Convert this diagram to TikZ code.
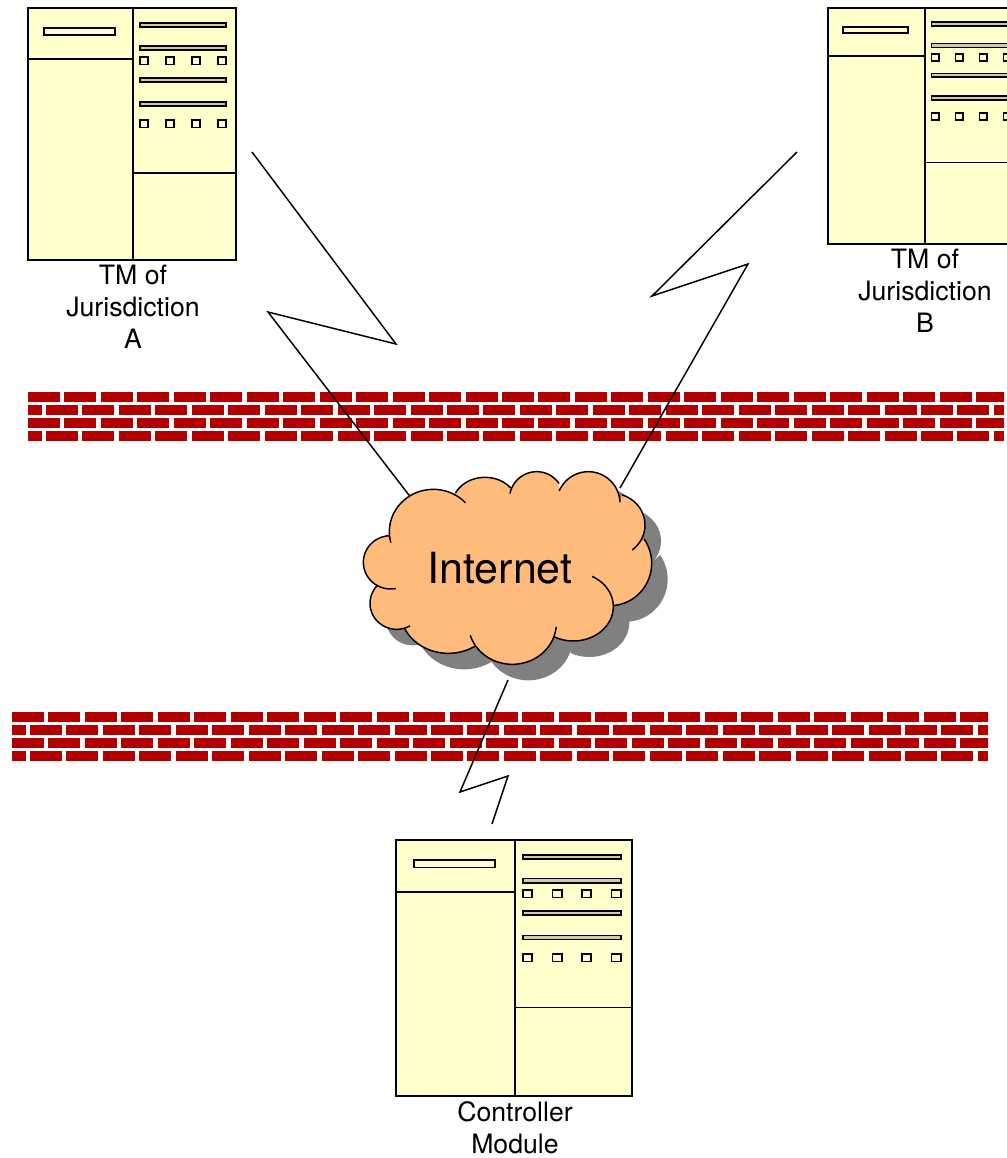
\documentclass[tikz,border=0pt]{standalone}
\usepackage{fontspec}
\setmainfont{TeX Gyre Heros}
\usepackage{tikz}

% One rack: #1 = left, #2 = top, #3 = x factor, #4 = y factor
\newcommand{\serverrack}[4]{
  \begin{scope}[shift={(#1,#2)},xscale=#3,yscale=#4]
    \draw[rack line,fill=rackcolor] (0,0) rectangle (208,252);
    \draw[rack line] (105,0) -- (105,252);
    \draw[thin line] (0,51) -- (105,51);
    \draw[thin line] (105,165) -- (208,165);
    \draw[thin line,fill=rackcolor] (16,20) rectangle (87,27);
    \foreach \y in {15,38,70,94}
      \draw[thin line,fill=slotcolor] (112,\y) rectangle (198,\y+4);
    \foreach \y in {49,112}
      \foreach \x in {112,138,164,190}
        \draw[thin line,fill=rackcolor] (\x,\y) rectangle (\x+8,\y+7.5);
  \end{scope}
}

% One wall: #1 = left, #2 = top
\newcommand{\brickwall}[2]{
  \begin{scope}[shift={(#1,#2)}]
    \clip (0,0) rectangle (976,49);
    \foreach \row in {0,26}
      \foreach \k in {0,...,26} {
        \fill[brickcolor] (\k*36.46,\row) rectangle (\k*36.46+32,\row+10);
        \fill[brickcolor] (\k*36.46-18.5,\row+13) rectangle (\k*36.46+13.5,\row+23);
      }
    \fill[brickcolor] (26*36.46+18,13) rectangle (976,23);
    \fill[brickcolor] (26*36.46+18,39) rectangle (976,49);
  \end{scope}
}

% One lobe of the cloud: join, centre, radii, first and last angle
\newcommand{\lobe}[7]{#1 plot[domain=#6:#7,samples=30,smooth] ({#2+#4*cos(\x)},{#3+#5*sin(\x)})}

% Cloud lobes, #1 = -- to join them, empty to keep them apart
\newcommand{\cloudpath}[1]{
  \lobe{}{250}{215}{132}{127}{165}{317}
  \lobe{#1}{405}{135}{98}{83}{205}{322}
  \lobe{#1}{560}{118}{82}{83}{192}{325}
  \lobe{#1}{715}{130}{95}{95}{203}{358}
  \lobe{#1}{785}{195}{100}{95}{288}{412}
  \lobe{#1}{780}{310}{125}{127}{325}{445}
  \lobe{#1}{670}{440}{120}{103}{298}{478}
  \lobe{#1}{487}{490}{132}{123}{5}{163}
  \lobe{#1}{295}{450}{145}{130}{56}{154}
  \lobe{#1}{140}{430}{80}{78}{60}{222}
  \lobe{#1}{122}{307}{82}{80}{79}{268}
}

\begin{document}
\begin{tikzpicture}[x=0.75pt,y=-0.75pt]
  % Colors
  \definecolor{rackcolor}{RGB}{255,255,204}
  \definecolor{slotcolor}{RGB}{205,205,160}
  \definecolor{brickcolor}{RGB}{178,0,0}
  \definecolor{cloudcolor}{RGB}{255,187,124}
  \definecolor{shadowcolor}{RGB}{128,128,128}

  % Styles
  \tikzstyle{rack line}=[line width=1.5pt]
  \tikzstyle{thin line}=[line width=1.25pt]
  \tikzstyle{zigzag}=[line width=1.1pt]
  \tikzstyle{label text}=[align=center,inner sep=0pt,anchor=north,font=\fontsize{20}{24}\selectfont]

  \clip (0,0) rectangle (1007,1158);

  % The racks
  \serverrack{28}{8}{1}{1}
  \serverrack{828}{8}{0.923}{0.9365}
  \serverrack{396}{840}{1.135}{1.016}

  \node[label text] (labelA) at (133,265) {TM of\\Jurisdiction\\A};
  \node[label text] (labelB) at (925,249) {TM of\\Jurisdiction\\B};
  \node[label text] (labelC) at (515,1101) {Controller\\Module};

  % The walls
  \brickwall{28}{392}
  \brickwall{12}{712}

  % The links
  \coordinate (linkAstart) at (252,152);
  \coordinate (linkAout) at (396,344);
  \coordinate (linkAback) at (268,312);
  \coordinate (linkAend) at (412,499);
  \coordinate (linkBstart) at (797,152);
  \coordinate (linkBout) at (652,296);
  \coordinate (linkBback) at (748,264);
  \coordinate (linkBend) at (620,488);
  \coordinate (linkCstart) at (508,680);
  \coordinate (linkCout) at (460,792);
  \coordinate (linkCback) at (508,776);
  \coordinate (linkCend) at (492,824);

  \draw[zigzag] (linkAstart) -- (linkAout) -- (linkAback) -- (linkAend);
  \draw[zigzag] (linkBstart) -- (linkBout) -- (linkBback) -- (linkBend);
  \draw[zigzag] (linkCstart) -- (linkCout) -- (linkCback) -- (linkCend);

  % The cloud
  \begin{scope}[shift={(366,476)},x=0.25pt,y=-0.25pt]
    \fill[shadowcolor] \cloudpath{--} -- cycle;
  \end{scope}
  \begin{scope}[shift={(350,460)},x=0.25pt,y=-0.25pt]
    \fill[cloudcolor] \cloudpath{--} -- cycle;
    \draw[zigzag] \cloudpath{};
  \end{scope}

  \node[inner sep=0pt,font=\fontsize{32.2}{36}\selectfont] (internet) at (500,568) {Internet};
\end{tikzpicture}
\end{document}
